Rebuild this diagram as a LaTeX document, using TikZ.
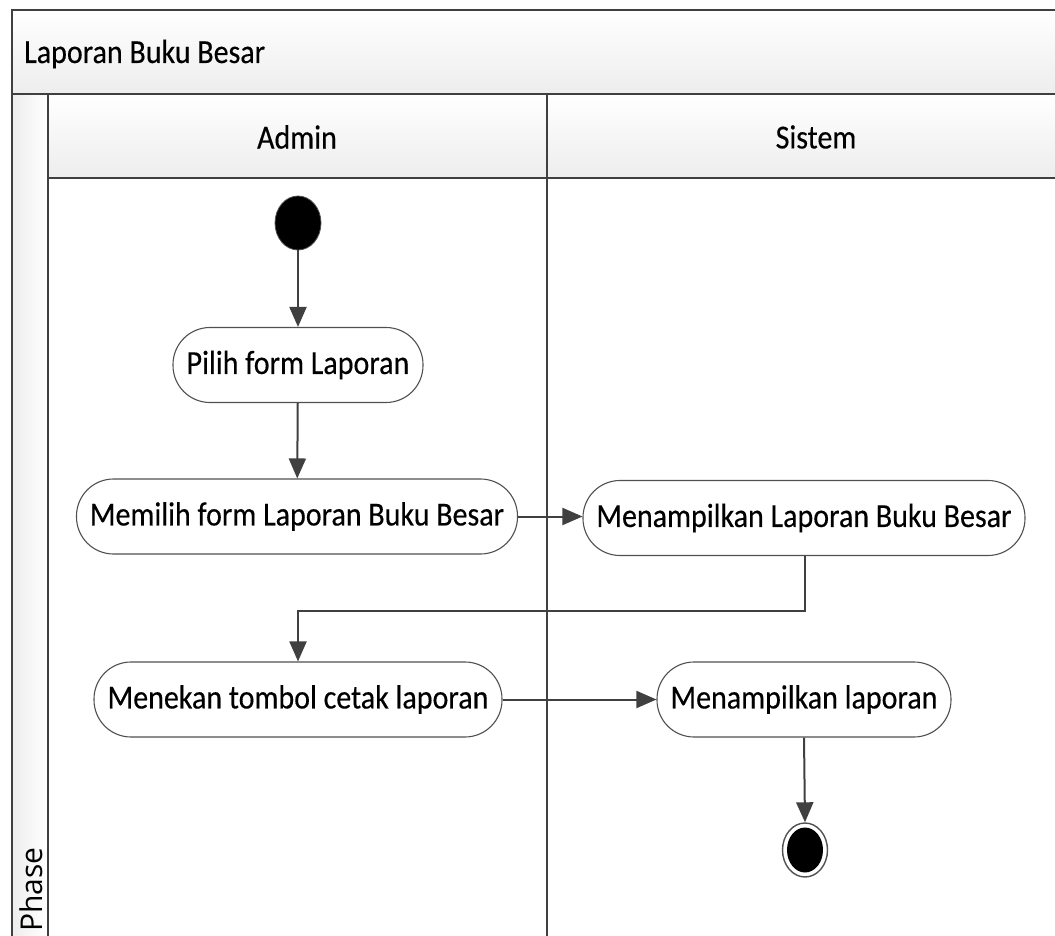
\documentclass[tikz,border=0pt]{standalone}
\usepackage{fontspec}
\setmainfont{Carlito}[FakeBold=0.35]
\newfontfamily\phasefont{Open Sans}
\usetikzlibrary{arrows.meta,shapes.geometric}
\definecolor{linegray}{HTML}{404040}
\definecolor{boxgray}{HTML}{505050}
\newcommand{\tallt}[1]{\scalebox{1}[1.12]{#1}}
\begin{document}
\begin{tikzpicture}[x=1pt,y=-1pt,
  frameline/.style={draw=linegray,line width=2.2pt},
  act/.style={draw=boxgray,line width=1.1pt,fill=white,rounded corners=37pt,
    minimum height=75pt,inner sep=0pt,font=\fontsize{30}{36}\selectfont},
  flow/.style={draw=linegray,line width=2pt,-{Triangle[length=20pt,width=17pt]}},
  lbl/.style={font=\fontsize{30}{36}\selectfont,inner sep=0pt}]
\useasboundingbox (0,0) rectangle (1055,936);
% backgrounds
\shade[top color=white,bottom color=black!7] (12,10) rectangle (1060,94);
\shade[top color=white,bottom color=black!7] (48,94) rectangle (1060,178);
\shade[left color=black!7,right color=white] (12,94) rectangle (48,940);
% frame lines
\draw[frameline] (1060,10) -- (12,10) -- (12,940);
\draw[frameline] (12,94) -- (1060,94);
\draw[frameline] (48,94) -- (48,940);
\draw[frameline] (48,178) -- (1060,178);
\draw[frameline] (547,94) -- (547,940);
% labels
\node[lbl,anchor=base west] (title) at (24,63) {\tallt{Laporan Buku Besar}};
\node[lbl] (admin) at (297,137) {\tallt{Admin}};
\node[lbl] (sistem) at (816,137) {\tallt{Sistem}};
\node[font=\phasefont\fontsize{30}{36}\selectfont,inner sep=0pt,rotate=90,anchor=base west] (phase) at (42,932) {Phase};
% activity nodes
\node[ellipse,fill=black,draw=boxgray,line width=0.8pt,minimum width=46pt,minimum height=54pt,inner sep=0pt] (start) at (298,223) {};
\node[act,minimum width=250pt] (pilih) at (298,365) {\tallt{Pilih form Laporan}};
\node[act,minimum width=441pt] (memilih) at (297,516.5) {\tallt{Memilih form Laporan Buku Besar}};
\node[act,minimum width=442pt] (tampil) at (804,518) {\tallt{Menampilkan Laporan Buku Besar}};
\node[act,minimum width=408pt] (tekan) at (298,699.5) {\tallt{Menekan tombol cetak laporan}};
\node[act,minimum width=294pt] (laporan) at (804,699.5) {\tallt{Menampilkan laporan}};
\node[ellipse,draw=boxgray,line width=1.4pt,fill=white,minimum width=45pt,minimum height=54pt,inner sep=0pt] (end) at (805,850) {};
\node[ellipse,fill=black,minimum width=36pt,minimum height=45pt,inner sep=0pt] (endin) at (805,850) {};
% connectors
\draw[flow] (start) -- (pilih);
\draw[flow] (pilih) -- (memilih);
\draw[flow] (memilih) -- (memilih -| tampil.west);
\draw[flow] (tampil.south -| 805,0) -- ++(0,55) -| (tekan.north);
\draw[flow] (tekan) -- (laporan);
\draw[flow] (laporan.south) -- (end.north);
\end{tikzpicture}
\end{document}
